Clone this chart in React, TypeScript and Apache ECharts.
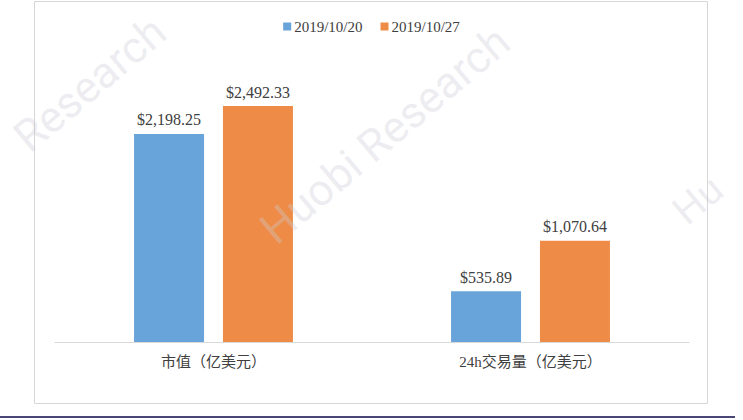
import React, { useEffect, useRef } from "react";
import * as echarts from "echarts";

const categories = ["市值（亿美元）", "24h交易量（亿美元）"];
const seriesNames = ["2019/10/20", "2019/10/27"];
const valuesOct20 = [2198.25, 535.89];
const valuesOct27 = [2492.33, 1070.64];
const colors = ["#68a3da", "#ee8c47"];

const fmt = (v: number) =>
  "$" + v.toLocaleString("en-US", { minimumFractionDigits: 2, maximumFractionDigits: 2 });

const serif = "'Liberation Serif', 'Times New Roman', 'Noto Sans CJK SC', serif";

export default function App() {
  const ref = useRef<HTMLDivElement>(null);
  useEffect(() => {
    if (!ref.current) return;
    const chart = echarts.init(ref.current, undefined, { renderer: "svg" });
    const wm = (text: string, x: number, y: number, size = 44) => ({
      type: "text",
      x,
      y,
      rotation: 0.7,
      z: 100,
      silent: true,
      style: {
        text,
        fontFamily: "Roboto, sans-serif",
        fontSize: size,
        fill: "rgba(205,205,215,0.35)",
        align: "center",
        verticalAlign: "middle",
      },
    });
    const vals = [valuesOct20, valuesOct27];
    chart.setOption({
      animation: false,
      backgroundColor: "#ffffff",
      legend: {
        top: 14,
        left: "center",
        itemWidth: 8,
        itemHeight: 8,
        itemGap: 18,
        icon: "rect",
        data: seriesNames,
        textStyle: { fontFamily: serif, fontSize: 15, color: "#404040", padding: [0, 0, 0, -2] },
      },
      grid: { left: 55, right: 54, top: 58, bottom: 78, containLabel: false },
      xAxis: {
        type: "category",
        data: categories,
        axisLine: { lineStyle: { color: "#d9d9d9", width: 1 } },
        axisTick: { show: false },
        axisLabel: { fontFamily: serif, fontSize: 15, color: "#404040", margin: 12 },
      },
      yAxis: {
        type: "value",
        min: 0,
        max: 3000,
        show: false,
        splitLine: { show: false },
      },
      series: seriesNames.map((name, i) => ({
        name,
        type: "bar",
        data: vals[i],
        barWidth: 70,
        barGap: "27%",
        itemStyle: { color: colors[i] },
        label: {
          show: true,
          position: "top",
          distance: 6,
          formatter: (p: any) => fmt(p.value),
          fontFamily: serif,
          fontSize: 16,
          color: "#404040",
        },
      })),
      graphic: [
        {
          type: "rect",
          silent: true,
          shape: { x: 34.5, y: 1.5, width: 673, height: 402 },
          style: { fill: "none", stroke: "#d6d6d6", lineWidth: 1 },
        },
        {
          type: "rect",
          silent: true,
          shape: { x: 0, y: 416, width: 735, height: 2 },
          style: { fill: "#4a4778" },
        },
        wm("Huobi Research", 385, 135),
        wm("Research", 90, 84),
        wm("Hu", 698, 200, 40),
      ],
    });
    return () => chart.dispose();
  }, []);
  return (
    <div
      ref={ref}
      style={{ position: "fixed", left: 0, top: 0, width: 743, height: 420 }}
    />
  );
}
